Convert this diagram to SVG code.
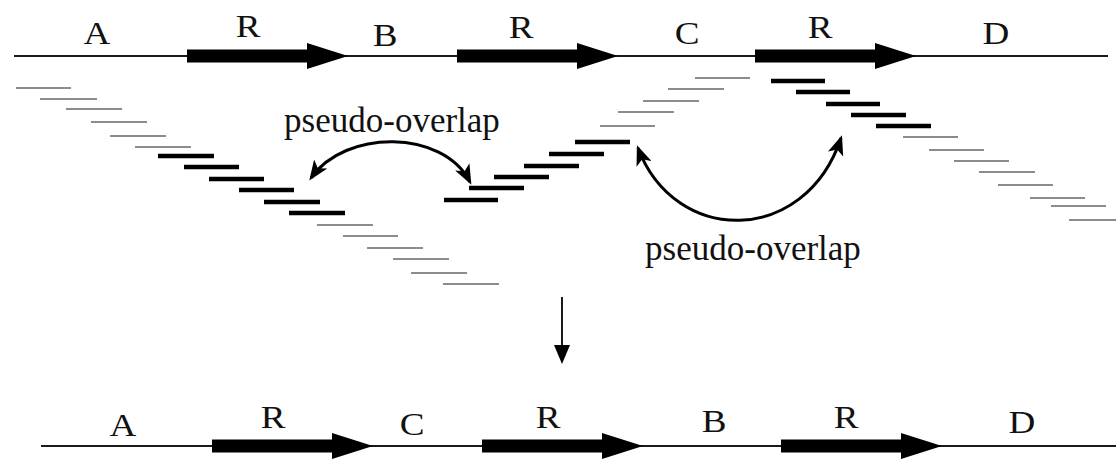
<svg xmlns="http://www.w3.org/2000/svg" xmlns:xlink="http://www.w3.org/1999/xlink" width="1116" height="460" viewBox="0 0 1116 460">
  <style>
    .seq { stroke: #1a1a1a; stroke-width: 2; fill: none; }
    .lbl { font-family: "Liberation Serif", "Times New Roman", serif; font-size: 32px; fill: #111; text-anchor: middle; }
    .note { font-family: "Liberation Serif", "Times New Roman", serif; font-size: 35px; fill: #111; text-anchor: middle; }
    .rd { stroke: #8c8c8c; stroke-width: 2; }
    .rk { stroke: #000; stroke-width: 4.5; }
    .link { stroke: #000; stroke-width: 3; fill: none; marker-start: url(#head); marker-end: url(#head); }
    .rep { fill: #000; }
  </style>
  <defs>
    <!-- repeat element R: thick block arrow, origin at left end on the axis -->
    <path id="rep" d="M0,-6.5 H120 V-13 L161,0 L120,13 V6.5 H0 Z"/>
    <marker id="head" viewBox="0 0 20 16" markerUnits="userSpaceOnUse" markerWidth="20" markerHeight="16" refX="17" refY="8" orient="auto-start-reverse">
      <path d="M0,0 L20,8 L0,16 L5,8 Z" fill="#000"/>
    </marker>
  </defs>

  <!-- original genome: A R B R C R D -->
  <g id="genome-top">
    <line class="seq" x1="14" y1="56" x2="1108" y2="56"/>
    <use href="#rep" class="rep" x="187" y="56"/>
    <use href="#rep" class="rep" x="457" y="56"/>
    <use href="#rep" class="rep" x="755" y="56"/>
    <text class="lbl" transform="translate(97 44) scale(1.16 1)">A</text>
    <text class="lbl" transform="translate(248 37) scale(1.16 1)">R</text>
    <text class="lbl" transform="translate(385 46) scale(1.16 1)">B</text>
    <text class="lbl" transform="translate(521 38) scale(1.16 1)">R</text>
    <text class="lbl" transform="translate(687 44) scale(1.16 1)">C</text>
    <text class="lbl" transform="translate(820 38) scale(1.16 1)">R</text>
    <text class="lbl" transform="translate(996 44) scale(1.16 1)">D</text>
  </g>

  <!-- reads tiling A -> R -> B -->
  <g id="reads-left">
    <line class="rd" x1="16" y1="88" x2="71" y2="88"/>
    <line class="rd" x1="40" y1="99" x2="97" y2="99"/>
    <line class="rd" x1="66" y1="109" x2="122" y2="109"/>
    <line class="rd" x1="91" y1="122" x2="147" y2="122"/>
    <line class="rd" x1="110" y1="136" x2="166" y2="136"/>
    <line class="rd" x1="135" y1="147" x2="191" y2="147"/>
    <line class="rk" x1="158" y1="156" x2="214" y2="156"/>
    <line class="rk" x1="184" y1="167" x2="239" y2="167"/>
    <line class="rk" x1="209" y1="179" x2="264" y2="179"/>
    <line class="rk" x1="239" y1="190" x2="294" y2="190"/>
    <line class="rk" x1="264" y1="202" x2="320" y2="202"/>
    <line class="rk" x1="289" y1="213" x2="345" y2="213"/>
    <line class="rd" x1="317" y1="225" x2="373" y2="225"/>
    <line class="rd" x1="343" y1="236" x2="398" y2="236"/>
    <line class="rd" x1="367" y1="248" x2="423" y2="248"/>
    <line class="rd" x1="393" y1="259" x2="449" y2="259"/>
    <line class="rd" x1="411" y1="273" x2="467" y2="273"/>
    <line class="rd" x1="443" y1="284" x2="499" y2="284"/>
  </g>

  <!-- reads tiling R -> C -->
  <g id="reads-middle">
    <line class="rk" x1="444" y1="200" x2="498" y2="200"/>
    <line class="rk" x1="469" y1="188" x2="524" y2="188"/>
    <line class="rk" x1="494" y1="177" x2="549" y2="177"/>
    <line class="rk" x1="524" y1="166" x2="579" y2="166"/>
    <line class="rk" x1="549" y1="154" x2="604" y2="154"/>
    <line class="rk" x1="575" y1="142" x2="630" y2="142"/>
    <line class="rd" x1="600" y1="126" x2="655" y2="126"/>
    <line class="rd" x1="618" y1="112" x2="674" y2="112"/>
    <line class="rd" x1="643" y1="101" x2="699" y2="101"/>
    <line class="rd" x1="668" y1="89" x2="724" y2="89"/>
    <line class="rd" x1="695" y1="78" x2="750" y2="78"/>
  </g>

  <!-- reads tiling R -> D -->
  <g id="reads-right">
    <line class="rk" x1="771" y1="81" x2="825" y2="81"/>
    <line class="rk" x1="796" y1="92" x2="850" y2="92"/>
    <line class="rk" x1="826" y1="104" x2="880" y2="104"/>
    <line class="rk" x1="851" y1="115" x2="906" y2="115"/>
    <line class="rk" x1="876" y1="126" x2="931" y2="126"/>
    <line class="rd" x1="903" y1="137" x2="958" y2="137"/>
    <line class="rd" x1="929" y1="150" x2="984" y2="150"/>
    <line class="rd" x1="954" y1="161" x2="1009" y2="161"/>
    <line class="rd" x1="979" y1="172" x2="1035" y2="172"/>
    <line class="rd" x1="998" y1="185" x2="1053" y2="185"/>
    <line class="rd" x1="1030" y1="198" x2="1085" y2="198"/>
    <line class="rd" x1="1051" y1="206" x2="1106" y2="206"/>
    <line class="rd" x1="1069" y1="220" x2="1116" y2="220"/>
  </g>

  <!-- annotations -->
  <g id="label-overlap-1">
    <text class="note" x="392" y="132">pseudo-overlap</text>
  </g>
  <g id="label-overlap-2">
    <text class="note" x="753" y="260">pseudo-overlap</text>
  </g>

  <!-- connectors -->
  <g id="connectors">
    <path class="link" d="M311,178 C345,129 443,129 470,182"/>
    <path class="link" d="M638,148 C675,246 805,246 841,138"/>
    <line class="seq" x1="562" y1="297" x2="562" y2="347"/>
    <polygon points="554,345 570,345 562,364" fill="#000"/>
  </g>

  <!-- assembled genome: A R C R B R D -->
  <g id="genome-bottom">
    <line class="seq" x1="41" y1="446" x2="1116" y2="446"/>
    <use href="#rep" class="rep" x="212" y="446"/>
    <use href="#rep" class="rep" x="482" y="446"/>
    <use href="#rep" class="rep" x="781" y="446"/>
    <text class="lbl" transform="translate(123 436) scale(1.16 1)">A</text>
    <text class="lbl" transform="translate(273 428) scale(1.16 1)">R</text>
    <text class="lbl" transform="translate(412 435) scale(1.16 1)">C</text>
    <text class="lbl" transform="translate(548 428) scale(1.16 1)">R</text>
    <text class="lbl" transform="translate(714 432) scale(1.16 1)">B</text>
    <text class="lbl" transform="translate(846 428) scale(1.16 1)">R</text>
    <text class="lbl" transform="translate(1022 433) scale(1.16 1)">D</text>
  </g>
</svg>
